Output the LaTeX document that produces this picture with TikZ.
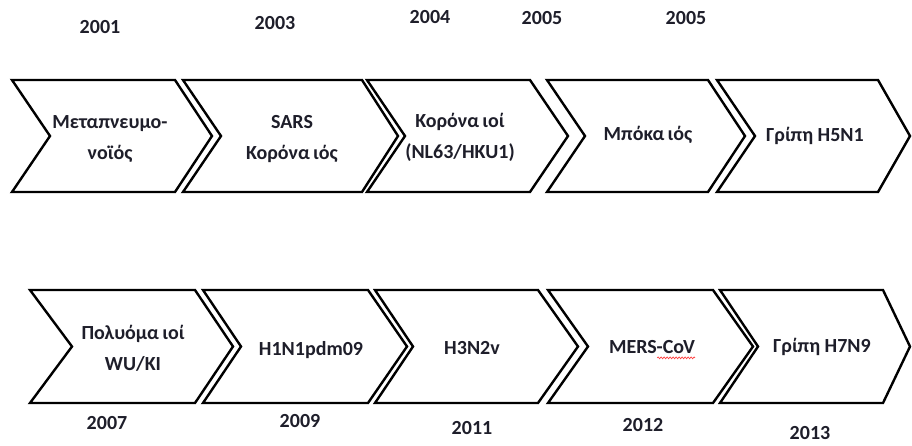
\documentclass[tikz,border=0pt]{standalone}
\usepackage{fontspec}
\setmainfont{Carlito}
\usetikzlibrary{decorations.pathmorphing}
\definecolor{txt}{HTML}{1E1E2A}
\tikzset{
  chev/.style={draw=black, line width=2.4pt, line join=miter, fill=white},
  lbl/.style={font=\bfseries\fontsize{20}{31}\selectfont, text=txt, align=center, inner sep=0pt},
  yr/.style={font=\bfseries\fontsize{20}{24}\selectfont, text=txt, inner sep=0pt},
}
% \chevron{name}{left}{notch}{topright}{tip}{top}{bottom}
\newcommand{\chevron}[7]{%
  \path[chev] (#2,#6) -- (#4,#6) -- (#5,{(#6+#7)/2}) -- (#4,#7) -- (#2,#7) -- (#3,{(#6+#7)/2}) -- cycle;
  \coordinate (#1) at ({(#3+#4)/2},{(#6+#7)/2});
}
\begin{document}
\begin{tikzpicture}[x=1pt,y=-1pt]
\useasboundingbox (0,0) rectangle (912,445);
% row 1
\chevron{a1}{12}{50}{175}{212}{80}{192}
\chevron{a2}{183}{221}{362}{398}{80}{192}
\chevron{a3}{367}{405}{530}{568}{80}{192}
\chevron{a4}{547}{585}{708}{745}{80}{192}
\chevron{a5}{717}{755}{878}{910}{80}{192}
% row 2
\chevron{b1}{30}{72}{195}{233}{290}{403}
\chevron{b2}{203}{241}{368}{407}{290}{403}
\chevron{b3}{375}{413}{538}{578}{290}{403}
\chevron{b4}{548}{588}{713}{753}{290}{403}
\chevron{b5}{720}{758}{883}{910}{290}{403}
% labels row 1
\node[lbl] (t1) at (110,139) {Μεταπνευμο-\\νοϊός};
\node[lbl] (t2) at (292,139) {SARS\\Κορόνα\,ιός};
\node[lbl] (t3) at (460,137) {Κορόνα\,ιοί\\(NL63/HKU1)};
\node[lbl] (t4) at (648,135) {Μπόκα\,ιός};
\node[lbl] (t5) at (815,136) {Γρίπη H5N1};
% labels row 2
\node[lbl] (u1) at (133,348) {Πολυόμα\,ιοί\\WU/KI};
\node[lbl] (u2) at (311,350) {H1N1pdm09};
\node[lbl] (u3) at (472,348) {H3N2v};
\node[lbl] (u4) at (652,347) {MERS-CoV};
\node[lbl] (u5) at (822,347) {Γρίπη H7N9};
\draw[red!75, line width=0.7pt, decorate, decoration={snake, amplitude=0.9pt, segment length=3pt}]
  ([xshift=-38pt,yshift=-4pt]u4.south east) -- ([yshift=-4pt]u4.south east);
% years row 1
\node[yr] (y1) at (100,27) {2001};
\node[yr] (y2) at (275,23) {2003};
\node[yr] (y3) at (430,17) {2004};
\node[yr] (y4) at (542,18) {2005};
\node[yr] (y5) at (686,18) {2005};
% years row 2
\node[yr] (z1) at (107,423) {2007};
\node[yr] (z2) at (300,421) {2009};
\node[yr] (z3) at (472,428) {2011};
\node[yr] (z4) at (643,425) {2012};
\node[yr] (z5) at (810,433) {2013};
\end{tikzpicture}
\end{document}
